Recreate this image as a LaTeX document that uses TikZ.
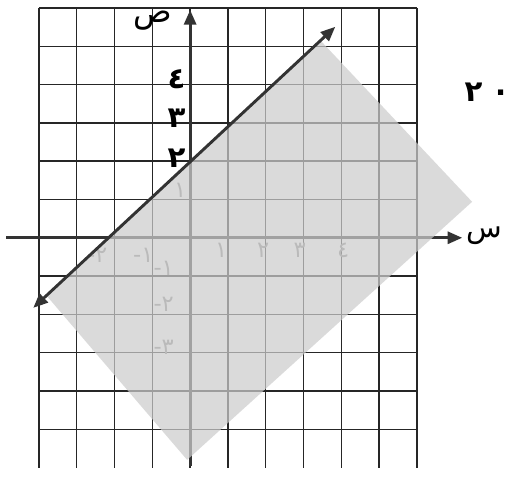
\documentclass[tikz,border=0pt]{standalone}
\usepackage{fontspec}
\usepackage{tikz}
\usetikzlibrary{arrows.meta, positioning}
\usepackage{xcolor}
\newfontfamily\arabicfont[Script=Arabic]{DejaVu Sans}
\TeXXeTstate=1
\definecolor{shadegray}{gray}{0.8}

\begin{document}
\begin{tikzpicture}[x=1cm, y=1.013cm,
    gridline/.style={black!85, line width=1.1pt},
    axisline/.style={black!80, line width=2.2pt},
    tipstyle/.style={-{Triangle[length=11pt,width=9pt]}},
    numlabel/.style={font=\arabicfont\bfseries\fontsize{22}{22}\selectfont, inner sep=1pt},
    fadedlabel/.style={font=\arabicfont\fontsize{17}{17}\selectfont, inner sep=1pt, black!45},
    axisname/.style={font=\arabicfont\fontsize{24}{24}\selectfont, inner sep=0pt}]
  \useasboundingbox (-5.03,-6.27) rectangle (8.33,6.21);
  % grid
  \foreach \gx in {-4,...,6}
    \draw[gridline] (\gx,-6) -- (\gx,6);
  \foreach \gy in {-5,...,6}
    \draw[gridline] (-4,\gy) -- (6,\gy);
  % axes
  \coordinate (xstart) at (-4.87,0);
  \coordinate (xend) at (7.2,0);
  \coordinate (ystart) at (0,-5.95);
  \coordinate (yend) at (0,5.95);
  \draw[axisline, tipstyle] (xstart) -- (xend);
  \draw[axisline, tipstyle] (ystart) -- (yend);
  % labels under the shading
  \foreach \px/\txt [count=\i] in {0.82/١, 1.93/٢, 2.9/٣, 4.05/٤}
    \node[fadedlabel] (xpos\i) at (\px,-0.33) {\txt};
  \foreach \px/\txt [count=\i] in {-1.24/١-, -2.46/٢-}
    \node[fadedlabel] (xneg\i) at (\px,-0.45) {\txt};
  \node[fadedlabel] (yone) at (-0.26,1.25) {١};
  \foreach \py/\txt [count=\i] in {-0.8/١-, -1.75/٢-, -2.85/٣-}
    \node[fadedlabel] (yneg\i) at (-0.7,\py) {\txt};
  % region below the line
  \coordinate (stop) at (3.45,5.15);
  \coordinate (sright) at (7.46,0.94);
  \coordinate (sbottom) at (-0.08,-5.8);
  \coordinate (sleft) at (-3.8,-1.51);
  \fill[shadegray, fill opacity=0.72] (stop) -- (sright) -- (sbottom) -- (sleft) -- cycle;
  % boundary line
  \coordinate (lowtip) at (-4.15,-1.83);
  \coordinate (hightip) at (3.84,5.51);
  \draw[axisline, {Triangle[length=11pt,width=9pt]}-{Triangle[length=11pt,width=9pt]}]
    (lowtip) -- (hightip);
  % axis names and numbers
  \node[axisname] (yname) at (-1.0,5.68) {\beginR ص\endR};
  \node[axisname, anchor=west, font=\arabicfont\fontsize{22}{22}\selectfont] (xname) at (7.3,0.05) {\beginR س\endR};
  \node[numlabel] (yfour) at (-0.36,4.15) {٤};
  \node[numlabel] (ythree) at (-0.36,3.13) {٣};
  \node[numlabel] (ytwo) at (-0.36,2.09) {٢};
  \node[numlabel] (qnum) at (7.5,3.79) {٢};
  \node[numlabel, right=7pt of qnum] (qdot) {.};
\end{tikzpicture}
\end{document}
